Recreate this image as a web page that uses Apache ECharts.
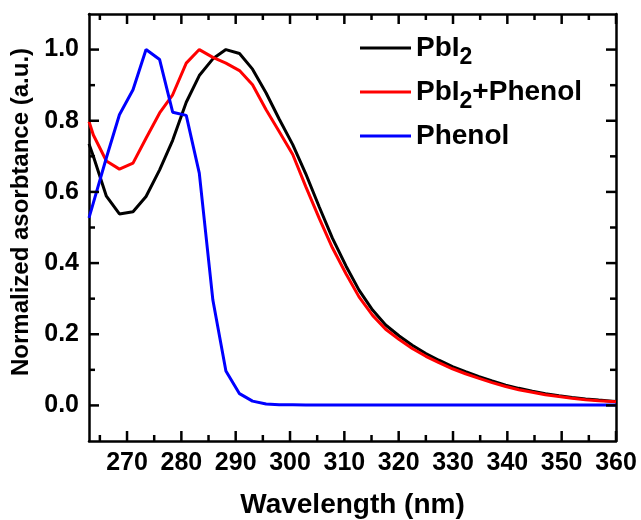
<!DOCTYPE html>
<html>
<head>
<meta charset="utf-8">
<script src="https://cdn.jsdelivr.net/npm/echarts@6/dist/echarts.min.js"></script>
<style>
html,body{margin:0;padding:0;background:#fff;}
#chart{width:641px;height:520px;}
</style>
</head>
<body>
<div id="chart"></div>
<script>
// ---- Data ----
const wavelengths = [263.0, 263.8, 266.2, 268.6, 271.1, 273.5, 276.0, 278.4, 280.9, 283.3, 285.8, 288.2, 290.7, 293.1, 295.6, 298.0, 300.5, 302.9, 305.4, 307.8, 310.3, 312.7, 315.2, 317.6, 320.1, 322.5, 325.0, 327.4, 329.9, 332.3, 334.8, 337.2, 339.7, 342.1, 344.6, 347.0, 349.5, 351.9, 354.4, 356.8, 359.3, 360.0];
const pbi2 = [0.735, 0.700, 0.588, 0.538, 0.544, 0.587, 0.662, 0.745, 0.852, 0.927, 0.974, 1.000, 0.989, 0.945, 0.878, 0.805, 0.733, 0.651, 0.557, 0.470, 0.392, 0.324, 0.268, 0.226, 0.195, 0.169, 0.146, 0.127, 0.109, 0.095, 0.081, 0.069, 0.057, 0.048, 0.040, 0.033, 0.027, 0.022, 0.018, 0.015, 0.012, 0.011];
const pbi2Phenol = [0.798, 0.760, 0.687, 0.664, 0.681, 0.751, 0.822, 0.873, 0.962, 1.000, 0.978, 0.962, 0.941, 0.901, 0.831, 0.770, 0.705, 0.615, 0.525, 0.443, 0.370, 0.305, 0.253, 0.214, 0.185, 0.160, 0.138, 0.120, 0.103, 0.089, 0.076, 0.064, 0.053, 0.044, 0.037, 0.030, 0.025, 0.020, 0.016, 0.013, 0.011, 0.010];
const phenol = [0.527, 0.569, 0.696, 0.817, 0.887, 1.000, 0.972, 0.824, 0.815, 0.653, 0.296, 0.097, 0.033, 0.012, 0.004, 0.002, 0.002, 0.001, 0.001, 0.001, 0.001, 0.001, 0.001, 0.001, 0.001, 0.001, 0.001, 0.001, 0.001, 0.001, 0.001, 0.001, 0.001, 0.001, 0.001, 0.001, 0.001, 0.001, 0.001, 0.001, 0.001, 0.001];
const seriesNames = ['PbI2', 'PbI2+Phenol', 'Phenol'];
const xRange = [263, 360];
const yRange = [-0.1, 1.1];
const xMajorTicks = [270, 280, 290, 300, 310, 320, 330, 340, 350, 360];
const xMinorTicks = [265, 275, 285, 295, 305, 315, 325, 335, 345, 355];
const yMajorTicks = [0.0, 0.2, 0.4, 0.6, 0.8, 1.0];
const yMinorTicks = [0.1, 0.3, 0.5, 0.7, 0.9];
const xLabelSplits = 10;   // 10 nm label spacing (270 ... 360)
const yLabelSplits = 6;    // 0.2 label spacing (0.0 ... 1.0)
const xTitle = 'Wavelength (nm)';
const yTitle = 'Normalized asorbtance (a.u.)';

const FONT = "'Liberation Sans', Arial, Helvetica, sans-serif";
const AX_W = 2.5;
const MAJOR_LEN = 10;
const MINOR_LEN = 6;

function pairs(ys) { return wavelengths.map((x, i) => [x, ys[i]]); }

function axisCfg(isX, pos, withLabels) {
  const r = isX ? xRange : yRange;
  const a = {
    type: 'value', position: pos, min: r[0], max: r[1],
    splitNumber: isX ? xLabelSplits : yLabelSplits,
    splitLine: { show: false },
    axisLine: { show: true, onZero: false, lineStyle: { color: '#000', width: AX_W } },
    axisTick: { show: false },
    minorTick: { show: false },
    axisLabel: { show: false },
    name: ''
  };
  if (withLabels) {
    a.axisLabel = {
      show: true, margin: 10, color: '#000',
      fontFamily: FONT, fontWeight: 'bold', fontSize: 25,
      showMinLabel: false, showMaxLabel: isX,
      formatter: isX ? (v => String(Math.round(v))) : (v => Number(v).toFixed(1))
    };
    a.name = isX ? xTitle : yTitle;
    a.nameLocation = 'middle';
    a.nameGap = isX ? 50 : 52;
    a.nameRotate = isX ? 0 : 90;
    a.nameTextStyle = isX
      ? { color: '#000', fontFamily: FONT, fontWeight: 'bold', fontSize: 28 }
      : { color: '#000', fontFamily: FONT, fontWeight: 'bold', fontSize: 24, padding: [0, 0, 0, 31] };
  }
  return a;
}

// tick items: [value, kind]; kind 0 = x major, 1 = x minor, 2 = y major, 3 = y minor
const tickItems = []
  .concat(xMajorTicks.map(v => [v, 0]))
  .concat(xMinorTicks.map(v => [v, 1]))
  .concat(yMajorTicks.map(v => [v, 2]))
  .concat(yMinorTicks.map(v => [v, 3]));

function renderTick(params, api) {
  const v = api.value(0);
  const kind = api.value(1);
  const len = (kind === 0 || kind === 2) ? MAJOR_LEN : MINOR_LEN;
  const style = { stroke: '#000', lineWidth: AX_W, fill: null };
  if (kind === 0 || kind === 1) {
    const b = api.coord([v, yRange[0]]);
    const t = api.coord([v, yRange[1]]);
    return { type: 'group', children: [
      { type: 'line', shape: { x1: b[0], y1: b[1], x2: b[0], y2: b[1] - len }, style: style },
      { type: 'line', shape: { x1: t[0], y1: t[1], x2: t[0], y2: t[1] + len }, style: style }
    ] };
  }
  const l = api.coord([xRange[0], v]);
  const r = api.coord([xRange[1], v]);
  return { type: 'group', children: [
    { type: 'line', shape: { x1: l[0], y1: l[1], x2: l[0] + len, y2: l[1] }, style: style },
    { type: 'line', shape: { x1: r[0], y1: r[1], x2: r[0] - len, y2: r[1] }, style: style }
  ] };
}

const chart = echarts.init(document.getElementById('chart'), null, { renderer: 'canvas' });
chart.setOption({
  animation: false,
  backgroundColor: '#fff',
  grid: { left: 89, top: 14, right: 25, bottom: 79, outerBoundsMode: 'none', containLabel: false },
  xAxis: [
    axisCfg(true, 'bottom', true),
    axisCfg(true, 'top', false)
  ],
  yAxis: [
    axisCfg(false, 'left', true),
    axisCfg(false, 'right', false)
  ],
  legend: {
    left: 360, top: 26, orient: 'vertical', itemGap: 0, padding: 0,
    itemWidth: 51, itemHeight: 3, icon: 'rect',
    data: seriesNames,
    formatter: name => name.replace('I2', 'I{sub|2}'),
    textStyle: {
      color: '#000', fontFamily: FONT, fontWeight: 'bold', fontSize: 28, lineHeight: 44,
      rich: {
        sub: { color: '#000', fontFamily: FONT, fontWeight: 'bold', fontSize: 23, lineHeight: 44, padding: [20, 0, 0, 0] }
      }
    }
  },
  series: [
    { name: seriesNames[0], type: 'line', data: pairs(pbi2), showSymbol: false, color: '#000000', lineStyle: { width: 3, color: '#000000' }, z: 2 },
    { name: seriesNames[1], type: 'line', data: pairs(pbi2Phenol), showSymbol: false, color: '#ff0000', lineStyle: { width: 3, color: '#ff0000' }, z: 3 },
    { name: seriesNames[2], type: 'line', data: pairs(phenol), showSymbol: false, color: '#0000ff', lineStyle: { width: 3, color: '#0000ff' }, z: 4 },
    { name: 'ticks', type: 'custom', data: tickItems, renderItem: renderTick,
      xAxisIndex: 0, yAxisIndex: 0, clip: false, silent: true, z: 6,
      encode: { x: 0, y: 1 }, tooltip: { show: false } }
  ]
});
</script>
</body>
</html>
